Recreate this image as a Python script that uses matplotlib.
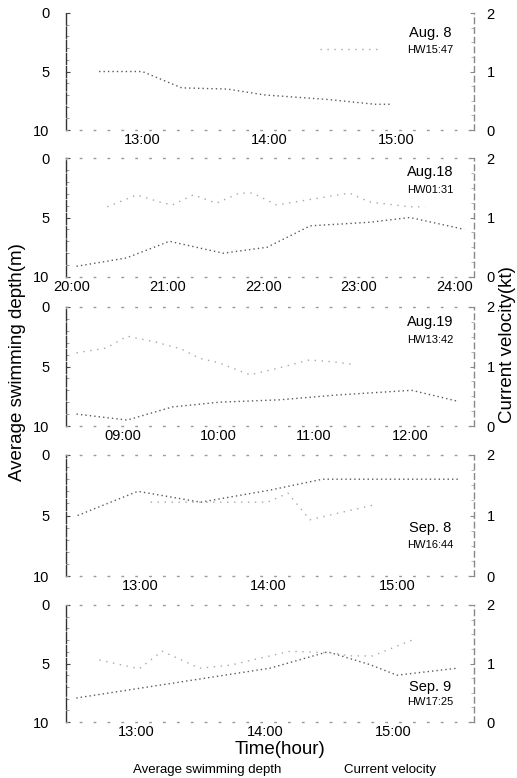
import matplotlib
matplotlib.use("Agg")
import matplotlib.pyplot as plt
from matplotlib.ticker import MultipleLocator

plt.rcParams['font.family'] = ['Liberation Sans', 'DejaVu Sans']

# ---------------- data (decimal hours) ----------------
dates = ["Aug. 8", "Aug.18", "Aug.19", "Sep. 8", "Sep. 9"]
hw_labels = ["HW15:47", "HW01:31", "HW13:42", "HW16:44", "HW17:25"]

# Aug. 8
aug8_depth_t = [12.66, 13.00, 13.31, 13.67, 13.96, 14.47, 14.83, 14.97]
aug8_depth = [5.0, 5.0, 6.4, 6.5, 7.0, 7.4, 7.8, 7.8]
aug8_vel_t = [14.40, 14.85]
aug8_vel = [1.38, 1.38]

# Aug.18
aug18_depth_t = [20.05, 20.57, 21.02, 21.58, 22.04, 22.49, 23.11, 23.53, 24.10]
aug18_depth = [9.1, 8.4, 7.0, 8.0, 7.5, 5.7, 5.4, 5.0, 6.0]
aug18_vel_t = [20.37, 20.68, 20.92, 21.05, 21.27, 21.51, 21.75, 21.89, 22.14,
               22.59, 22.90, 23.11, 23.53, 23.69]
aug18_vel = [1.18, 1.38, 1.26, 1.21, 1.38, 1.24, 1.41, 1.41, 1.21,
             1.33, 1.41, 1.26, 1.18, 1.18]

# Aug.19
aug19_depth_t = [8.52, 9.05, 9.52, 10.01, 10.64, 11.23, 12.02, 12.49]
aug19_depth = [9.0, 9.5, 8.4, 8.0, 7.8, 7.4, 7.0, 7.9]
aug19_vel_t = [8.52, 8.83, 9.05, 9.35, 9.62, 9.80, 10.01, 10.33, 10.62,
               10.95, 11.19, 11.39]
aug19_vel = [1.23, 1.31, 1.51, 1.41, 1.29, 1.14, 1.06, 0.86, 0.97,
             1.11, 1.08, 1.04]

# Sep. 8
sep8_depth_t = [12.51, 12.98, 13.47, 14.01, 14.42, 15.49]
sep8_depth = [5.0, 3.0, 3.9, 2.9, 2.0, 2.0]
sep8_vel_t = [13.08, 13.44, 13.88, 13.99, 14.15, 14.32, 14.81]
sep8_vel = [1.22, 1.22, 1.22, 1.22, 1.37, 0.93, 1.17]

# Sep. 9
sep9_depth_t = [12.53, 14.04, 14.49, 14.82, 15.03, 15.50]
sep9_depth = [7.95, 5.4, 4.0, 5.1, 6.0, 5.4]
sep9_vel_t = [12.71, 13.02, 13.20, 13.49, 13.73, 13.96, 14.20, 14.53, 14.66,
              14.84, 15.17]
sep9_vel = [1.06, 0.91, 1.21, 0.92, 0.97, 1.09, 1.21, 1.18, 1.13, 1.13, 1.42]

depth_t = [aug8_depth_t, aug18_depth_t, aug19_depth_t, sep8_depth_t, sep9_depth_t]
depth_v = [aug8_depth, aug18_depth, aug19_depth, sep8_depth, sep9_depth]
vel_t = [aug8_vel_t, aug18_vel_t, aug19_vel_t, sep8_vel_t, sep9_vel_t]
vel_v = [aug8_vel, aug18_vel, aug19_vel, sep8_vel, sep9_vel]

xticks = [[13, 14, 15], [20, 21, 22, 23, 24], [9, 10, 11, 12], [13, 14, 15], [13, 14, 15]]
xtick_labels = [["13:00", "14:00", "15:00"],
                ["20:00", "21:00", "22:00", "23:00", "24:00"],
                ["09:00", "10:00", "11:00", "12:00"],
                ["13:00", "14:00", "15:00"],
                ["13:00", "14:00", "15:00"]]
xlims = [(12.40, 15.61), (19.94, 24.20), (8.41, 12.67), (12.42, 15.60), (12.45, 15.63)]

# ---------------- layout ----------------
W, H = 517, 778
fig = plt.figure(figsize=(W / 100, H / 100), dpi=100)
panels_px = [(13, 130), (158, 277), (307, 426), (455, 576), (605, 722)]
left_px, right_px = 66, 474

# label positions (fig px): (y of date, y of HW)
label_pos = [(33, 50), (172, 190), (322, 340), (528, 545), (687, 702)]

depth_col = "#5a5a5a"
vel_col = "#a8a8a8"

for i in range(5):
    top, bot = panels_px[i]
    ax = fig.add_axes([left_px / W, 1 - bot / H, (right_px - left_px) / W, (bot - top) / H])
    ax.plot(depth_t[i], depth_v[i], color=depth_col, lw=1.0, ls=(0, (1, 2.2)))
    ax.set_ylim(10, 0)
    ax.set_xlim(*xlims[i])
    ax.set_yticks([0, 5, 10])
    ax.set_yticklabels(["0", "5", "10"], fontsize=10.5)
    ax.yaxis.set_minor_locator(MultipleLocator(1))
    ax.tick_params(axis='y', which='major', length=3, direction='in', pad=12, color='#444')
    ax.tick_params(axis='y', which='minor', length=2, direction='in', color='#888')
    ax.set_xticks(xticks[i])
    ax.set_xticklabels(xtick_labels[i], fontsize=10.5)
    ax.tick_params(axis='x', length=0, pad=2)
    ax.spines['left'].set_color('#333')
    ax.spines['left'].set_linewidth(1.0)
    ax.spines['left'].set_linestyle((0, (8, 1.5)))
    for s in ['top', 'bottom']:
        ax.spines[s].set_color('#999')
        ax.spines[s].set_linestyle((0, (1, 9)))
        ax.spines[s].set_linewidth(1.0)
    if i == 0:
        ax.spines['top'].set_visible(False)
    ax.spines['right'].set_visible(False)
    ax.patch.set_alpha(0)

    ax2 = ax.twinx()
    ax2.plot(vel_t[i], vel_v[i], color=vel_col, lw=1.0, ls=(0, (1, 4)))
    ax2.set_ylim(0, 2)
    ax2.set_yticks([0, 1, 2])
    ax2.set_yticklabels(["0", "1", "2"], fontsize=10.5)
    ax2.yaxis.set_minor_locator(MultipleLocator(0.25))
    ax2.tick_params(axis='y', which='major', length=3, direction='in', pad=9, color='#888')
    ax2.tick_params(axis='y', which='minor', length=2, direction='in', color='#aaa')
    for s in ['left', 'top', 'bottom']:
        ax2.spines[s].set_visible(False)
    ax2.spines['right'].set_color('#888')
    ax2.spines['right'].set_linestyle((0, (4, 3)))
    ax2.spines['right'].set_linewidth(1.0)

    yd, yh = label_pos[i]
    fig.text(430 / W, 1 - yd / H, dates[i], ha='center', va='center', fontsize=10.5)
    fig.text(430 / W, 1 - yh / H, hw_labels[i], ha='center', va='center', fontsize=8)

fig.text(18 / W, 1 - 362 / H, "Average swimming depth(m)", rotation=90,
         ha='center', va='center', fontsize=13.5)
fig.text(507 / W, 1 - 345 / H, "Current velocity(kt)", rotation=90,
         ha='center', va='center', fontsize=13.5)
fig.text(280 / W, 1 - 750 / H, "Time(hour)", ha='center', va='center', fontsize=13.5)
fig.text(207 / W, 1 - 770 / H, "Average swimming depth", ha='center', va='center', fontsize=9.5)
fig.text(390 / W, 1 - 770 / H, "Current velocity", ha='center', va='center', fontsize=9.5)

fig.savefig("out.png", dpi=100)
